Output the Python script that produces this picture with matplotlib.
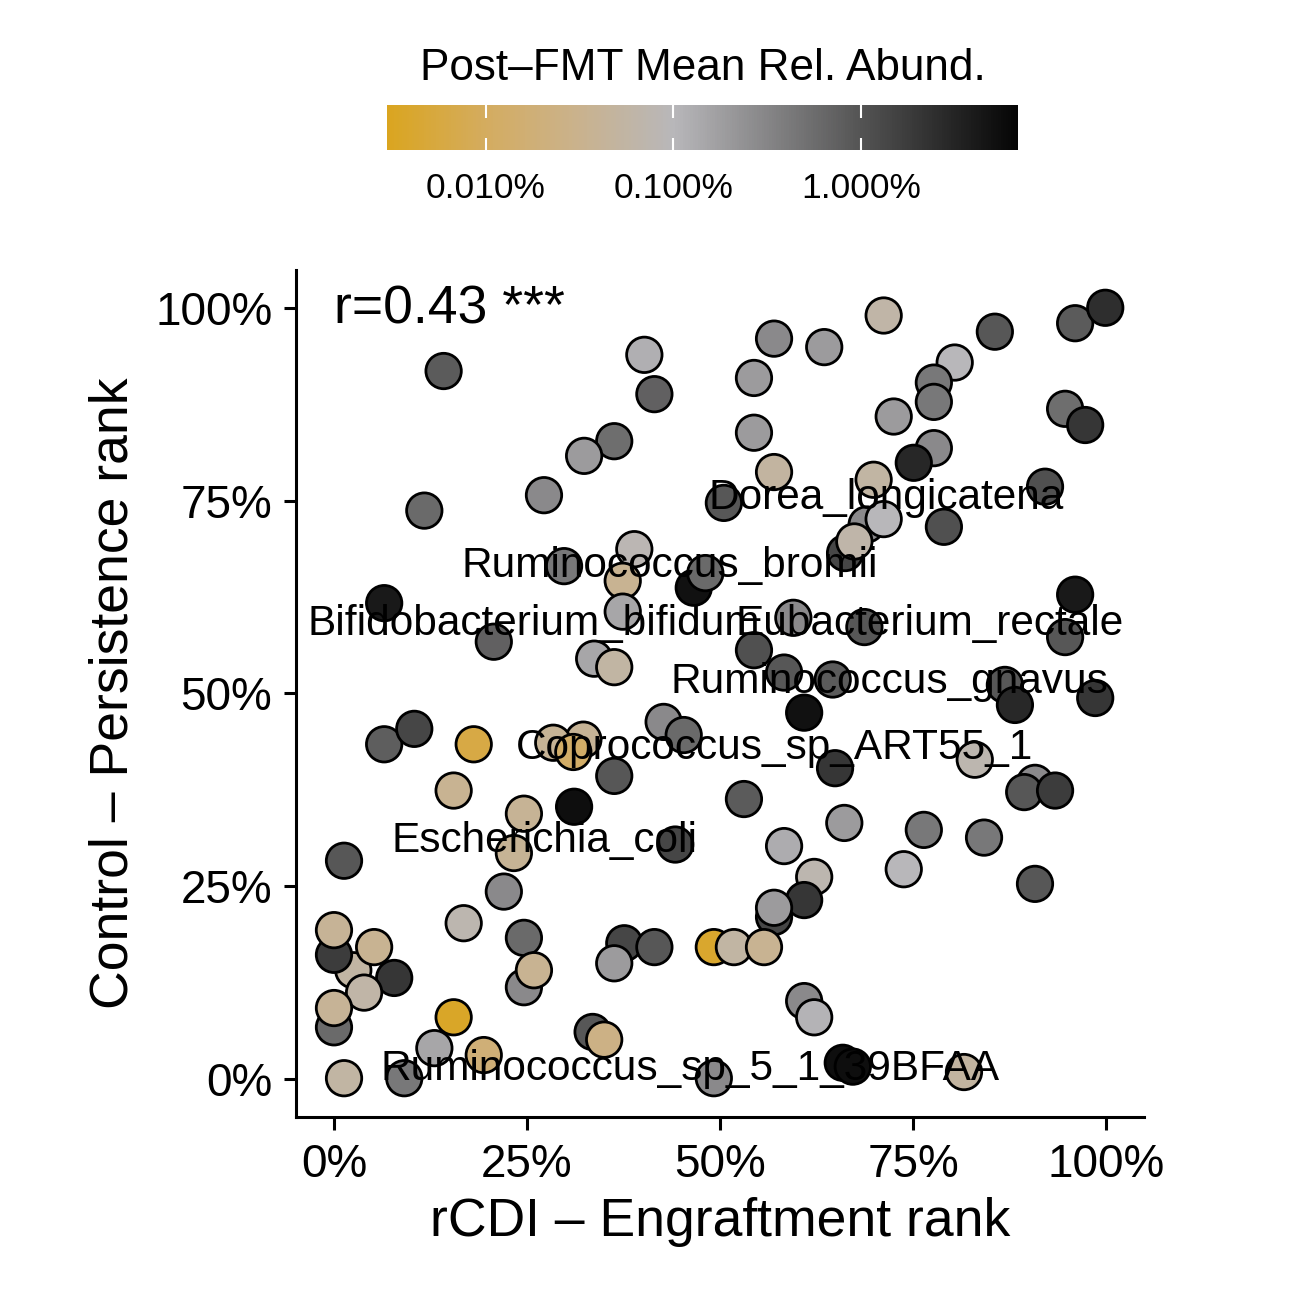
import numpy as np
import matplotlib
matplotlib.use("Agg")
import matplotlib.pyplot as plt
from matplotlib.colors import LinearSegmentedColormap, LogNorm
from matplotlib.cm import ScalarMappable
from matplotlib.ticker import FixedLocator, NullLocator

plt.rcParams['font.family'] = ['Liberation Sans', 'DejaVu Sans']

# engraftment rank (rCDI), persistence rank (control), both in %
engraft = [14.2, 40.2, 41.5, 36.3, 32.4, 27.2, 11.7, 38.9, 29.8, 37.4,
           46.6, 6.5, 37.4, 20.7, 33.7, 36.3, 71.2, 57.0, 63.5, 85.6,
           96.0, 99.9, 54.4, 80.4, 77.7, 77.7, 72.5, 94.7, 97.3, 54.4,
           77.7, 75.1, 57.0, 69.9, 92.1, 50.5, 69.0, 71.2, 79.0, 66.2,
           67.4, 48.1, 96.0, 94.7, 59.5, 68.7, 54.4, 58.3, 64.6, 86.9,
           88.2, 98.6, 60.9, 64.9, 83.0, 90.8, 89.4, 93.4, 53.1, 66.1,
           76.4, 84.2, 58.3, 73.8, 62.2, 90.8, 57.0, 60.9, 57.0, 49.2,
           51.8, 55.7, 60.9, 62.2, 65.9, 67.2, 81.6, 49.2, 6.5, 10.4,
           18.1, 15.5, 32.3, 28.4, 31.0, 36.3, 31.1, 24.6, 23.3, 44.2,
           1.3, 22.0, 16.8, 2.5, 0.0, 0.0, 5.2, 7.8, 3.9, 0.0,
           0.0, 24.6, 24.6, 25.9, 37.6, 36.3, 41.5, 15.5, 13.0, 19.4,
           9.1, 1.3, 33.5, 35.0, 42.7, 45.3]
persist = [91.8, 93.9, 88.8, 82.7, 80.8, 75.7, 73.7, 68.7, 66.5, 64.6,
           63.7, 61.7, 60.6, 56.7, 54.5, 53.4, 99.0, 96.0, 94.9, 96.9,
           98.0, 100.0, 90.9, 92.9, 90.3, 87.8, 85.9, 86.9, 84.8, 83.8,
           81.8, 79.9, 78.7, 77.7, 76.8, 74.7, 71.9, 72.6, 71.6, 68.2,
           69.7, 65.6, 62.8, 57.3, 59.8, 58.6, 55.6, 52.7, 51.8, 51.1,
           48.5, 49.4, 47.5, 40.3, 41.4, 38.4, 37.2, 37.4, 36.3, 33.2,
           32.3, 31.3, 30.2, 27.2, 26.2, 25.3, 21.0, 23.2, 22.2, 17.1,
           17.1, 17.1, 10.1, 8.0, 2.1, 1.6, 0.9, 0.1, 43.4, 45.4,
           43.4, 37.4, 44.0, 43.6, 42.4, 39.3, 35.3, 34.4, 29.3, 30.4,
           28.3, 24.3, 20.2, 14.1, 16.1, 19.3, 17.1, 13.1, 11.2, 6.7,
           9.2, 18.3, 11.9, 14.1, 17.6, 15.0, 17.1, 8.0, 4.0, 3.1,
           0.1, 0.1, 6.1, 5.1, 46.3, 44.6]
# post-FMT mean relative abundance, %
abund = [0.83, 0.12, 0.75, 0.55, 0.19, 0.29, 0.6, 0.085, 0.43, 0.035,
         5.0, 4.2, 0.15, 0.75, 0.15, 0.055, 0.06, 0.29, 0.19, 0.93,
         0.83, 2.5, 0.19, 0.1, 0.43, 0.43, 0.19, 0.55, 2.1, 0.19,
         0.29, 3.0, 0.05, 0.055, 1.1, 0.93, 0.29, 0.1, 1.1, 1.4,
         0.065, 0.6, 4.2, 0.93, 0.29, 0.93, 1.1, 0.93, 0.83, 0.93,
         2.9, 2.1, 5.0, 2.1, 0.075, 0.29, 0.93, 1.8, 0.83, 0.19,
         0.43, 0.43, 0.13, 0.1, 0.075, 0.93, 1.4, 2.1, 0.19, 0.004,
         0.055, 0.035, 0.29, 0.11, 5.5, 5.5, 0.05, 0.29, 0.8, 1.4,
         0.006, 0.035, 0.038, 0.038, 0.012, 0.93, 5.5, 0.038, 0.038, 1.4,
         0.93, 0.29, 0.075, 0.055, 1.8, 0.04, 0.035, 2.1, 0.06, 0.6,
         0.04, 0.6, 0.29, 0.035, 1.4, 0.19, 0.93, 0.0035, 0.15, 0.018,
         0.43, 0.055, 0.93, 0.025, 0.29, 0.6]

label_names = ["Dorea_longicatena", "Ruminococcus_bromii", "Bifidobacterium_bifidum",
               "Eubacterium_rectale", "Ruminococcus_gnavus", "Coprococcus_sp_ART55_1",
               "Escherichia_coli", "Ruminococcus_sp_5_1_39BFAA"]
label_x = [71.5, 43.5, 25.9, 77.1, 72.0, 57.1, 27.3, 46.1]
label_y = [75.3, 66.5, 59.0, 59.0, 51.5, 42.9, 30.9, 1.3]

cbar_ticks = [0.01, 0.1, 1]
cbar_labels = ["0.010%", "0.100%", "1.000%"]
vmin, vmax = 0.00297, 6.87


def frac(v):
    return (np.log10(v) - np.log10(vmin)) / (np.log10(vmax) - np.log10(vmin))


# goldenrod -> warm tan -> grey (at 0.1%) -> black, on a log scale
cmap = LinearSegmentedColormap.from_list(
    "fmt", [(0, "#DAA520"), (frac(0.01), "#D4AC60"), (frac(0.03), "#CAB28C"),
            (frac(0.1), "#B8B7BA"), (frac(1), "#545454"), (1, "#050505")])
norm = LogNorm(vmin=vmin, vmax=vmax)

fig = plt.figure(figsize=(13, 13), dpi=100)
ax = fig.add_axes([296/1300, 1 - 1117/1300, 848/1300, 847/1300])

ax.scatter(engraft, persist, c=abund, cmap=cmap, norm=norm, s=650,
           edgecolors="black", linewidths=2.0, zorder=2)

for name, lx, ly in zip(label_names, label_x, label_y):
    ax.text(lx, ly, name, ha="center", va="center", fontsize=30.5, zorder=3)

ax.text(0, 99.8, "r=0.43 ***", ha="left", va="center", fontsize=38.5)

ax.set_xlim(-4.92, 104.92)
ax.set_ylim(-4.93, 104.9)
ticks = [0, 25, 50, 75, 100]
ax.set_xticks(ticks)
ax.set_yticks(ticks)
ax.set_xticklabels([f"{t}%" for t in ticks])
ax.set_yticklabels([f"{t}%" for t in ticks])
ax.spines["top"].set_visible(False)
ax.spines["right"].set_visible(False)
for s in ["left", "bottom"]:
    ax.spines[s].set_linewidth(2.2)
ax.tick_params(length=9, width=2.2, labelsize=33)
ax.tick_params(axis="x", pad=10)
ax.tick_params(axis="y", pad=8)
ax.set_xlabel("rCDI – Engraftment rank", fontsize=38.5, labelpad=7)
ax.set_ylabel("Control – Persistence rank", fontsize=38.5, labelpad=12)

cax = fig.add_axes([387/1300, 1 - 150/1300, 631/1300, 45/1300])
sm = ScalarMappable(norm=norm, cmap=cmap)
cb = fig.colorbar(sm, cax=cax, orientation="horizontal")
cb.outline.set_visible(False)
cax.xaxis.set_major_locator(FixedLocator(cbar_ticks))
cax.xaxis.set_minor_locator(NullLocator())
cax.set_xticklabels(cbar_labels)
cax.tick_params(axis="x", direction="in", colors="white", length=9, width=1.5,
                top=True, bottom=True, labelsize=25.5, labelcolor="black", pad=16)
cax.set_title("Post–FMT Mean Rel. Abund.", fontsize=31.8, pad=18)

fig.savefig("out.png", dpi=100)
